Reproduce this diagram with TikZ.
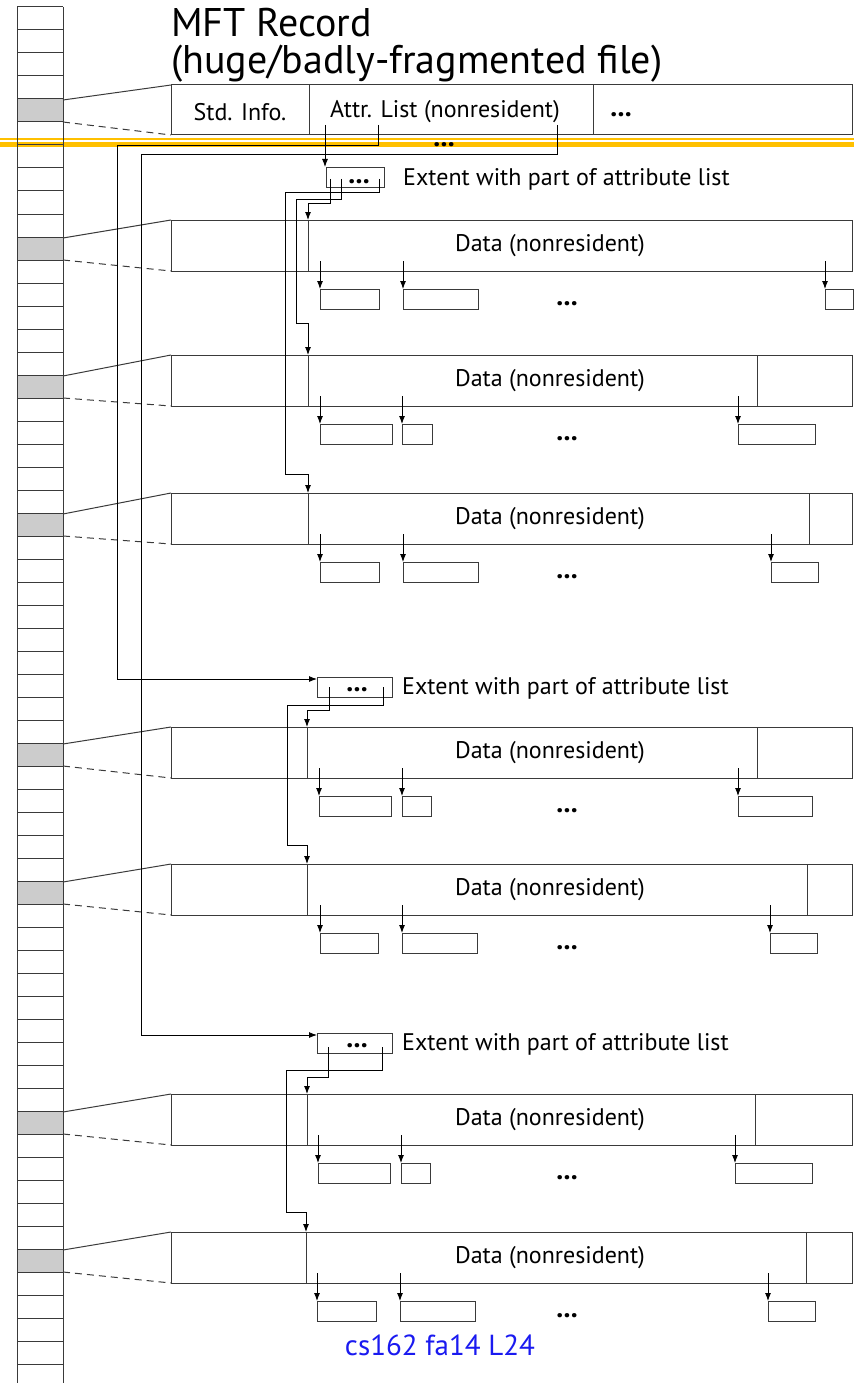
\documentclass[tikz,border=0pt]{standalone}
\usepackage{fontspec}
\setmainfont{PT Sans}
\usepackage{xcolor}
\usetikzlibrary{arrows.meta,calc,positioning}
\definecolor{slideyellow}{HTML}{FFC000}
\definecolor{cellgray}{HTML}{CCCCCC}
\definecolor{linegray}{HTML}{3A3A3A}
\definecolor{tagblue}{HTML}{1A1AF0}
\tikzset{
  box/.style={draw=linegray, line width=1pt},
  wire/.style={draw=black, line width=0.9pt},
  ptr/.style={wire, -{Latex[length=8pt,width=6pt]}},
  lbl/.style={font=\fontsize{24}{27}\selectfont, inner sep=0pt},
  dots/.style={font=\fontsize{28}{30}\selectfont\bfseries, inner sep=0pt, text height=4pt, text depth=0pt},
  extbox/.style={box, inner sep=0pt, minimum height=20pt, anchor=north west},
  link/.style={box, dash pattern=on 7pt off 5pt},
  title/.style={anchor=base west, inner sep=0pt, font=\fontsize{40}{44}\selectfont},
}

\begin{document}
\begin{tikzpicture}[x=1pt,y=-1pt]
  \useasboundingbox (0,0) rectangle (854,1383);
  % slide rule
  \fill[slideyellow] (0,138) rectangle (854,139.6);
  \fill[slideyellow] (0,142) rectangle (854,147);

  % MFT column
  \foreach \i in {4,10,16,22,32,38,48,54}
    \fill[cellgray] (17,{7+23*\i}) rectangle (63,{30+23*\i});
  \foreach \i in {0,...,59}
    \draw[box] (17,{7+23*\i}) -- (63,{7+23*\i});
  \draw[box] (17,7) -- (17,1383) (63,7) -- (63,1383);

  % MFT record
  \node[title, text depth=0pt] (title1) at (171,37) {MFT Record};
  \node[title, text height=26pt] (title2) at (171,74) {(huge/badly-fragmented file)};
  \coordinate (mft) at (171,85);
  \draw[box] (mft) rectangle (852,135);
  \draw[box] (309,85) -- (309,135) (593,85) -- (593,135);
  \draw[box] (63,100) -- (mft);
  \draw[link] (63,122) -- (171,135);
  \node[lbl] (std) at (240,112) {Std. Info.};
  \node[lbl] (attr) at (445,112) {Attr. List (nonresident)};
  \node[dots] (more) at (621,115) {...};
  \node[dots] (gap) at (444,145) {...};

  % extents holding the attribute list
  \node[extbox, minimum width=58pt] (ext1) at (326,167) {};
  \node[extbox, minimum width=75pt] (ext2) at (317,677) {};
  \node[extbox, minimum width=75pt] (ext3) at (317,1033) {};
  \node[dots] (d1) at (359,181) {...};
  \node[dots] (d2) at (357,689) {...};
  \node[dots] (d3) at (357,1045) {...};
  \node[lbl, anchor=west] (exttxt1) at (403,179) {Extent with part of attribute list};
  \node[lbl, anchor=west] (exttxt2) at (402,688) {Extent with part of attribute list};
  \node[lbl, anchor=west] (exttxt3) at (402,1044) {Extent with part of attribute list};

  % data records
  \foreach \n/\g/\t/\dv/\rdv/\ax/\aw/\bx/\bw/\cx/\cw in {
      1/10/220/308/0/320/59/403/75/825/28,
      2/16/355/308/757/320/72/402/30/738/77,
      3/22/493/308/809/320/59/403/75/771/47,
      4/32/727/307/757/319/72/402/29/738/74,
      5/38/864/307/807/320/58/402/75/770/47,
      6/48/1094/307/755/318/72/401/29/735/77,
      7/54/1232/306/806/317/59/400/75/768/47}{
    \coordinate (row\n) at (171,\t);
    \coordinate (in\n) at (\dv,\t);
    \draw[box] (row\n) rectangle (852,{\t+51});
    \draw[box] (in\n) -- (\dv,{\t+51});
    \ifnum\rdv>0 \draw[box] (\rdv,\t) -- (\rdv,{\t+51}); \fi
    \draw[box] (63,{8+23*\g}) -- (row\n);
    \draw[link] (63,{30+23*\g}) -- (171,{\t+51});
    \node[lbl] (data\n) at (550,{\t+26}) {Data (nonresident)};
    \foreach \x/\w in {\ax/\aw,\bx/\bw,\cx/\cw}{
      \draw[ptr] (\x,{\t+41}) -- (\x,{\t+69});
      \draw[box] (\x,{\t+69}) rectangle ({\x+\w},{\t+89});
    }
    \node[dots] (runs\n) at (567,{\t+83}) {...};
  }

  % pointers out of the attribute list
  \coordinate (a1) at (325,125);
  \coordinate (a2) at (378,125);
  \coordinate (a3) at (557,125);
  \coordinate (e2in) at (317,679);
  \coordinate (e3in) at (317,1035);
  \draw[ptr] (a1) -- (ext1.north -| a1);
  \draw[ptr] (a2) -- ++(0,20) -| ++(-261,534) -- (e2in);
  \draw[ptr] (a3) -- ++(0,29) -| ++(-416,881) -- (e3in);

  % pointers out of the extents
  \coordinate (e1p1) at (330,179);
  \coordinate (e1p2) at (341,179);
  \coordinate (e1p3) at (379,179);
  \draw[ptr] (e1p1) -- ++(0,24) -| (in1);
  \draw[ptr] (e1p2) -- ++(0,20) -| ++(-45,124) -| (in2);
  \draw[ptr] (e1p3) -- ++(0,13) -| ++(-94,282) -| (in3);

  \coordinate (e2p1) at (329,687);
  \coordinate (e2p2) at (383,687);
  \draw[ptr] (e2p1) -- ++(0,23) -| (in4);
  \draw[ptr] (e2p2) -- ++(0,18) -| ++(-96,140) -| (in5);

  \coordinate (e3p1) at (328,1047);
  \coordinate (e3p2) at (382,1047);
  \draw[ptr] (e3p1) -- ++(0,30) -| (in6);
  \draw[ptr] (e3p2) -- ++(0,23) -| ++(-96,142) -| (in7);

  \node[inner sep=0pt, text=tagblue, font=\fontsize{29}{31}\selectfont] (tag) at (440,1345) {cs162 fa14 L24};
\end{tikzpicture}
\end{document}
